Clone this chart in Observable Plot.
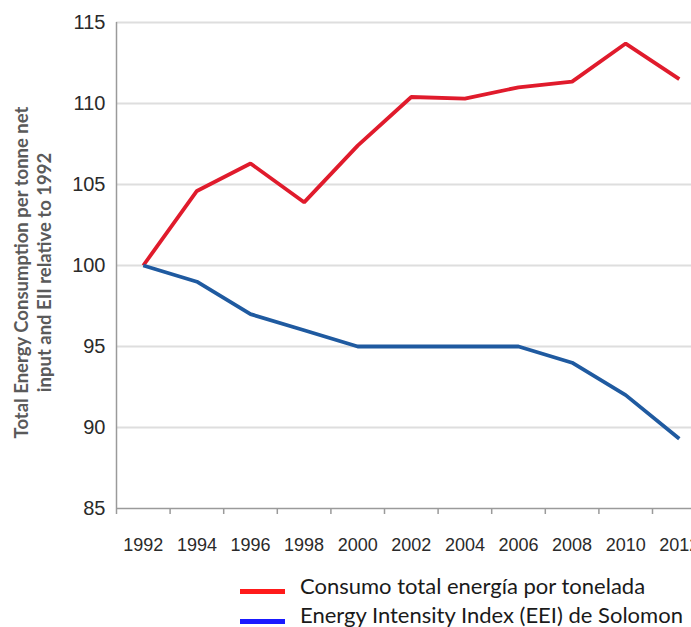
<!DOCTYPE html>
<html>
<head>
<meta charset="utf-8">
<script src="https://cdn.jsdelivr.net/npm/d3@7"></script>
<script src="https://cdn.jsdelivr.net/npm/@observablehq/plot@0.6"></script>
<style>
  html, body { margin: 0; padding: 0; background: #fff; width: 691px; height: 627px; overflow: hidden; }
  #chart svg { display: block; }
  .legend { position: relative; width: 691px; height: 62px; font-family: Lato, "Open Sans", sans-serif; font-size: 22px; line-height: 22px; color: #1a1a1a; overflow: hidden; }
  .legend .sw { position: absolute; left: 240px; width: 45px; height: 5px; }
  .legend .txt { position: absolute; left: 300px; white-space: nowrap; }
</style>
</head>
<body>
<div id="chart"></div>
<div class="legend" id="legend"></div>
<script>
// Index values (1992 = 100), every two years
const years = [1992, 1994, 1996, 1998, 2000, 2002, 2004, 2006, 2008, 2010, 2012];
const consumoTotal = [100, 104.6, 106.3, 103.9, 107.4, 110.4, 110.3, 111.0, 111.35, 113.7, 111.5];
const eiiSolomon = [100, 99.0, 97.0, 96.0, 95.0, 95.0, 95.0, 95.0, 94.0, 92.0, 89.3];

const seriesNames = ["Consumo total energía por tonelada", "Energy Intensity Index (EEI) de Solomon"];
const lineColors = ["#e01b2c", "#1f5aa0"];
const legendColors = ["#ff1a1a", "#1a1aff"];

const yTicks = [85, 90, 95, 100, 105, 110, 115];
const xTickLabels = years;
const xTickMarks = [1991, 1993, 1995, 1997, 1999, 2001, 2003, 2005, 2007, 2009, 2011];
const yTitle = "Total Energy Consumption per tonne net\ninput and EII relative to 1992";

const rows = [
  ...years.map((year, i) => ({year, value: consumoTotal[i], series: seriesNames[0]})),
  ...years.map((year, i) => ({year, value: eiiSolomon[i], series: seriesNames[1]}))
];

const chart = Plot.plot({
  width: 691,
  height: 565,
  marginTop: 22,
  marginBottom: 57,
  marginLeft: 116,
  marginRight: 0,
  style: {fontFamily: "'Liberation Sans', Arial, sans-serif", background: "#fff"},
  x: {domain: [1991, 2013], range: [116, 705.6]},
  y: {domain: [85, 115]},
  color: {domain: seriesNames, range: lineColors},
  marks: [
    Plot.gridY(yTicks.filter(d => d > 85), {stroke: "#dedede", strokeWidth: 2, strokeOpacity: 1}),
    Plot.ruleY([85], {stroke: "#9a9a9a", strokeWidth: 1.5}),
    Plot.ruleX([1991], {stroke: "#9a9a9a", strokeWidth: 1.5}),
    Plot.axisX(xTickMarks, {tickSize: 6, tickFormat: () => "", stroke: "#9a9a9a", strokeWidth: 1.5, label: null}),
    Plot.axisX(xTickLabels, {tickSize: 0, tickPadding: 30, tickFormat: d => String(d), fontSize: 18, fill: "#2a2a2a", label: null}),
    Plot.axisY(yTicks, {tickSize: 0, tickPadding: 11, fontSize: 20, fill: "#2a2a2a", label: null}),
    Plot.line(rows, {x: "year", y: "value", stroke: "series", strokeWidth: 3.8, strokeLinejoin: "miter", strokeLinecap: "butt"}),
    Plot.text([yTitle], {
      frameAnchor: "left", textAnchor: "middle", lineAnchor: "middle",
      rotate: -90, dx: -84, dy: 7,
      text: d => d, lineHeight: 1.25,
      fontSize: 18.5, fontWeight: "bold", fill: "#5a5a5a",
      fontFamily: "Lato, 'Open Sans', sans-serif"
    })
  ]
});
document.getElementById("chart").appendChild(chart);

// Legend below the chart
const legend = document.getElementById("legend");
const swatchTops = [24, 54];
const textTops = [9.5, 38.5];
seriesNames.forEach((name, i) => {
  const sw = document.createElement("div");
  sw.className = "sw";
  sw.style.top = swatchTops[i] + "px";
  sw.style.background = legendColors[i];
  const label = document.createElement("div");
  label.className = "txt";
  label.style.top = textTops[i] + "px";
  label.textContent = name;
  legend.appendChild(sw);
  legend.appendChild(label);
});
</script>
</body>
</html>
